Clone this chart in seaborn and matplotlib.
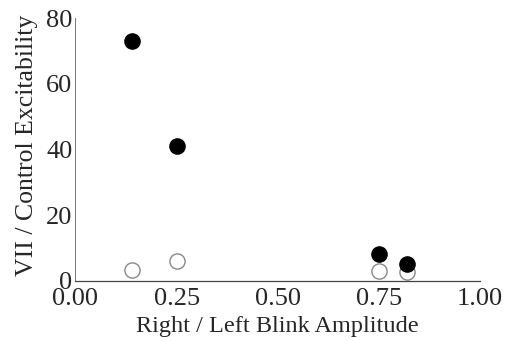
import matplotlib
matplotlib.use("Agg")
import matplotlib.pyplot as plt
import seaborn as sns
import pandas as pd

ratio = [0.14, 0.25, 0.75, 0.82]
excit_filled = [73, 41, 8.3, 5.2]
excit_open = [3.3, 6.2, 3.0, 2.7]
xticks = [0.0, 0.25, 0.5, 0.75, 1.0]
xticklabels = ["0.00", "0.25", "0.50", "0.75", "1.00"]
yticks = [0, 20, 40, 60, 80]

sns.set_style("white")
plt.rcParams['font.family'] = ['Liberation Serif', 'DejaVu Serif']

fig = plt.figure(figsize=(5.06, 3.41), dpi=100)
ax = fig.add_axes([0.149, 0.176, 0.80, 0.771])

df_f = pd.DataFrame({"x": ratio, "y": excit_filled})
df_o = pd.DataFrame({"x": ratio, "y": excit_open})
sns.scatterplot(data=df_o, x="x", y="y", ax=ax, s=120, facecolor="white",
                edgecolor="#888888", linewidth=1.0, zorder=2, clip_on=False)
sns.scatterplot(data=df_f, x="x", y="y", ax=ax, s=120, color="black",
                edgecolor="black", linewidth=1.0, zorder=3, clip_on=False)

ax.set_xlim(0, 1.0)
ax.set_ylim(0, 80)
ax.set_xticks(xticks)
ax.set_xticklabels(xticklabels)
ax.set_yticks(yticks)
ax.tick_params(axis="x", direction="inout", length=8, width=0.8, color="#444444",
               labelsize=19, pad=1)
ax.tick_params(axis="y", direction="in", length=3, width=0.6, color="#888888",
               labelsize=19, pad=2)
for s in ["top", "right"]:
    ax.spines[s].set_visible(False)
ax.spines["left"].set_linestyle((0, (1, 1)))
ax.spines["left"].set_color("#777777")
ax.spines["left"].set_linewidth(0.7)
ax.spines["bottom"].set_color("#444444")
ax.spines["bottom"].set_linewidth(0.9)
ax.set_xlabel("Right / Left Blink Amplitude", fontsize=17.5, labelpad=0)
ax.set_ylabel("VII / Control Excitability", fontsize=18.5)
ax.yaxis.set_label_coords(-0.093, 0.515)
ax.xaxis.set_label_coords(0.5, -0.135)

fig.savefig("out.png", dpi=100)
